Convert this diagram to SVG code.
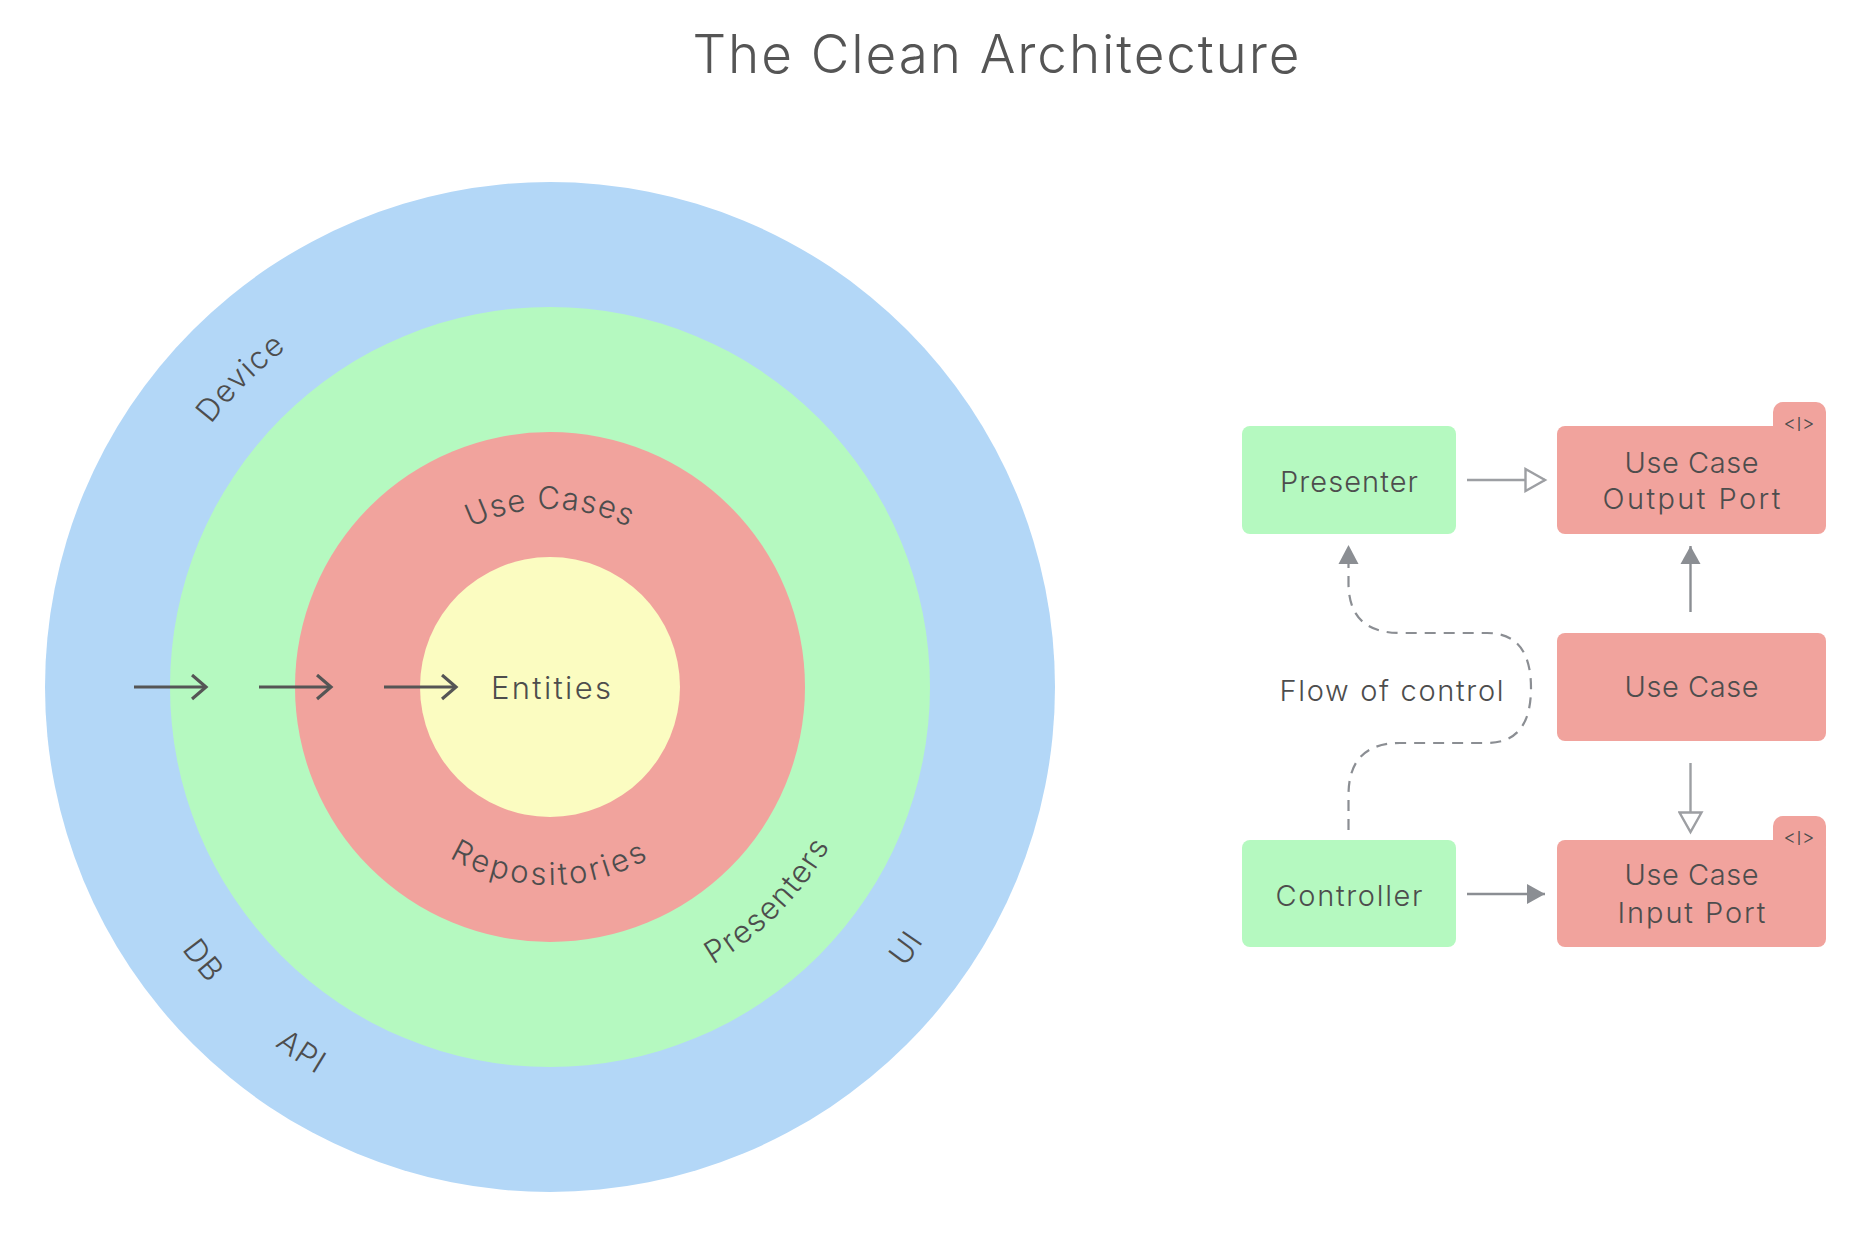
<svg xmlns="http://www.w3.org/2000/svg" width="1876" height="1234" viewBox="0 0 1876 1234">
<style>
  text { font-family: Inter, "Noto Sans", "Liberation Sans", sans-serif; fill: #4d4d4d; font-weight: 300; }
  .title { font-size: 53px; fill: #555555; text-anchor: middle; }
  .ring { font-size: 31px; letter-spacing: 1.5px; }
  .lbl { font-size: 29px; text-anchor: middle; }
  .tag { font-size: 19px; text-anchor: middle; }
  .blue { fill: #b3d7f7; }
  .green { fill: #b5f9c0; }
  .red { fill: #f1a39d; }
  .yellow { fill: #fbfcc1; }
  .ringarrow { stroke: #555555; stroke-width: 3.2; fill: none; }
  .flow { stroke: #8b8e93; stroke-width: 2.4; fill: none; }
  .hollow { stroke: #9d9fa3; stroke-width: 2.4; fill: none; }
  .dash { stroke: #8b8e93; stroke-width: 2.2; fill: none; stroke-dasharray: 11 8; }
</style>
<defs>
  <marker id="chev" markerUnits="userSpaceOnUse" markerWidth="20" markerHeight="28" refX="15" refY="13" orient="auto" viewBox="0 0 20 28">
    <polyline points="1,1 15,13 1,25" fill="none" stroke="#555555" stroke-width="3.2"/>
  </marker>
  <marker id="fill" markerUnits="userSpaceOnUse" markerWidth="20" markerHeight="22" refX="18" refY="11" orient="auto" viewBox="0 0 20 22">
    <path d="M0,1 L18,11 L0,21 Z" fill="#8b8e93"/>
  </marker>
  <marker id="open" markerUnits="userSpaceOnUse" markerWidth="24" markerHeight="26" refX="21" refY="13" orient="auto" viewBox="0 0 24 26">
    <path d="M1.5,2 L21,13 L1.5,24 Z" fill="#ffffff" stroke="#9d9fa3" stroke-width="2.4" stroke-linejoin="miter"/>
  </marker>
  <path id="p-usecases" d="M395.8,598 A178,178 0 0 1 704.2,598"/>
  <path id="p-repos" d="M378.5,786 A198,198 0 0 0 721.5,786"/>
  <path id="p-device" d="M135.6,798 A429,429 0 0 1 661,272.6"/>
  <path id="p-presenters" d="M469.4,998.7 A322,322 0 0 0 860.3,601"/>
  <path id="p-ui" d="M501.2,1136.4 A452,452 0 0 0 963.6,504.6"/>
  <path id="p-db" d="M130,519.9 A452,452 0 0 0 615.3,1134.3"/>
  <path id="p-api" d="M99.2,653.9 A452,452 0 0 0 746.7,1094"/>
</defs>

<rect width="1876" height="1234" fill="#ffffff"/>

<text id="title" class="title" x="996" y="73" textLength="607" lengthAdjust="spacing">The Clean Architecture</text>

<g id="ring-frameworks">
  <circle class="blue" cx="550" cy="687" r="505"/>
  <text class="ring"><textPath href="#p-device" startOffset="50%" text-anchor="middle">Device</textPath></text>
  <text class="ring"><textPath href="#p-db" startOffset="50%" text-anchor="middle">DB</textPath></text>
  <text class="ring"><textPath href="#p-api" startOffset="50%" text-anchor="middle">API</textPath></text>
  <text class="ring"><textPath href="#p-ui" startOffset="50%" text-anchor="middle">UI</textPath></text>
</g>
<g id="ring-adapters">
  <circle class="green" cx="550" cy="687" r="380"/>
  <text class="ring"><textPath href="#p-presenters" startOffset="50%" text-anchor="middle">Presenters</textPath></text>
</g>
<g id="ring-usecases">
  <circle class="red" cx="550" cy="687" r="255"/>
  <text class="ring" style="letter-spacing:1px"><textPath href="#p-usecases" startOffset="50%" text-anchor="middle">Use Cases</textPath></text>
  <text class="ring" style="letter-spacing:2.8px"><textPath href="#p-repos" startOffset="50%" text-anchor="middle">Repositories</textPath></text>
</g>
<g id="ring-entities">
  <circle class="yellow" cx="550" cy="687" r="130"/>
  <text class="ring" x="551" y="699" text-anchor="middle" style="font-size:31px;letter-spacing:0" textLength="120" lengthAdjust="spacing">Entities</text>
</g>

<g id="node-presenter">
  <rect class="green" x="1242" y="426" width="214" height="108" rx="8"/>
  <text class="lbl" x="1349" y="492" textLength="138" lengthAdjust="spacing">Presenter</text>
</g>
<g id="node-output-port">
  <rect class="red" x="1773" y="402" width="53" height="40" rx="10"/>
  <rect class="red" x="1557" y="426" width="269" height="108" rx="8"/>
  <text class="tag" x="1799" y="431" textLength="31" lengthAdjust="spacing">&lt;I&gt;</text>
  <text class="lbl" x="1691.5" y="473" textLength="134" lengthAdjust="spacing">Use Case</text>
  <text class="lbl" x="1691.5" y="509" textLength="178" lengthAdjust="spacing">Output Port</text>
</g>
<g id="node-usecase">
  <rect class="red" x="1557" y="633" width="269" height="108" rx="8"/>
  <text class="lbl" x="1691.5" y="697" textLength="134" lengthAdjust="spacing">Use Case</text>
</g>
<g id="node-controller">
  <rect class="green" x="1242" y="840" width="214" height="107" rx="8"/>
  <text class="lbl" x="1349" y="906" textLength="147" lengthAdjust="spacing">Controller</text>
</g>
<g id="node-input-port">
  <rect class="red" x="1773" y="816" width="53" height="40" rx="10"/>
  <rect class="red" x="1557" y="840" width="269" height="107" rx="8"/>
  <text class="tag" x="1799" y="845" textLength="31" lengthAdjust="spacing">&lt;I&gt;</text>
  <text class="lbl" x="1691.5" y="885" textLength="134" lengthAdjust="spacing">Use Case</text>
  <text class="lbl" x="1691.5" y="923" textLength="148" lengthAdjust="spacing">Input Port</text>
</g>
<text id="flow-label" class="lbl" x="1391.6" y="701" textLength="224" lengthAdjust="spacing">Flow of control</text>

<g id="connectors">
  <line class="ringarrow" x1="134" y1="687" x2="206" y2="687" marker-end="url(#chev)"/>
  <line class="ringarrow" x1="259" y1="687" x2="331" y2="687" marker-end="url(#chev)"/>
  <line class="ringarrow" x1="384" y1="687" x2="456" y2="687" marker-end="url(#chev)"/>

  <line class="hollow" x1="1467" y1="480" x2="1545" y2="480" marker-end="url(#open)"/>
  <line class="flow" x1="1690.5" y1="612" x2="1690.5" y2="546" marker-end="url(#fill)"/>
  <line class="hollow" x1="1690.5" y1="763" x2="1690.5" y2="832" marker-end="url(#open)"/>
  <line class="flow" x1="1467" y1="894" x2="1545" y2="894" marker-end="url(#fill)"/>
  <path class="dash" d="M1348.5,830 L1348.5,795 Q1348.5,743 1400,743 L1487,743 Q1531,743 1531,688 Q1531,633 1487,633 L1400,633 Q1348.5,633 1348.5,583 L1348.5,564"/>
  <path d="M1338.5,564 L1348.5,545 L1358.5,564 Z" fill="#8b8e93"/>
</g>
</svg>
